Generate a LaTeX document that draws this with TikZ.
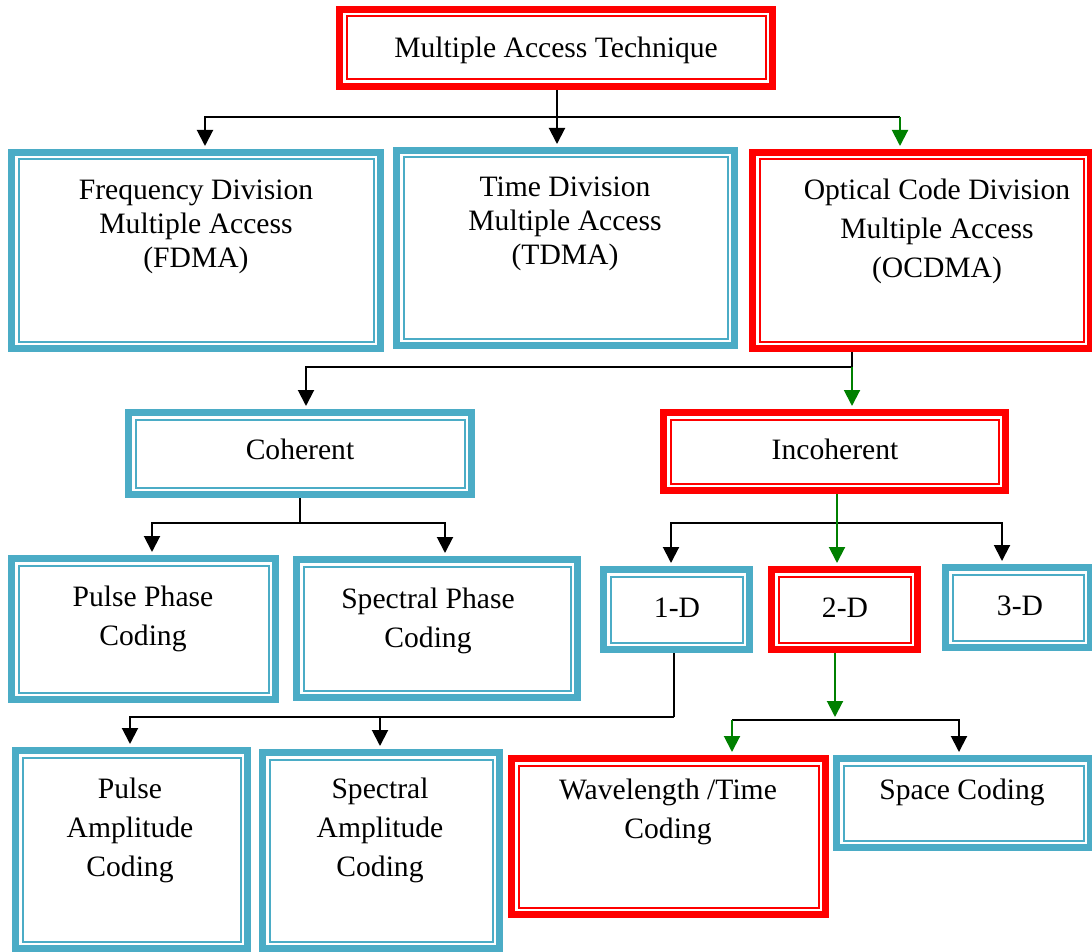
\documentclass[tikz,border=0pt]{standalone}
\usepackage{fontspec}
\setmainfont{Liberation Serif}
\usetikzlibrary{arrows.meta}
\definecolor{aqua}{RGB}{75,172,198}
\definecolor{dgreen}{RGB}{0,128,0}
\begin{document}
\begin{tikzpicture} [x = 0.5pt, y = -0.5pt,
  box/.style = {draw = #1, line width = 3.5pt, fill = white, inner sep = 0pt,
    path picture = {\draw[#1, line width = 1pt]
      ([shift = {(3.5pt,3.5pt)}]path picture bounding box.south west) rectangle
      ([shift = {(-3.5pt,-3.5pt)}]path picture bounding box.north east);}},
  txt/.style = {align = center, inner sep = 0pt, font = \fontsize{14.8}{17}\selectfont},
  wide/.style = {txt, font = \fontsize{14.8}{19.5}\selectfont},
  ln/.style = {line width = 1pt},
  arr/.style = {ln, shorten >= 1.5pt, -{Triangle[length = 8pt, width = 8pt]}},
  garr/.style = {arr, dgreen}]
\useasboundingbox (0,0) rectangle (1092,952);
\clip (0,0) rectangle (1092,952);

\node[box = red, minimum width = 216.5pt, minimum height = 38.5pt] (mat) at (556,48) {};
\node[txt] (matt) at (556,50) {Multiple Access Technique};

\node[box = aqua, minimum width = 184.5pt, minimum height = 98pt] (fdma) at (196,250.5) {};
\node[txt] (fdmat) at (196,227) {Frequency Division\\Multiple Access\\(FDMA)};
\node[box = aqua, minimum width = 169pt, minimum height = 97.5pt] (tdma) at (565.5,248) {};
\node[txt] (tdmat) at (565,224) {Time Division\\Multiple Access\\(TDMA)};
\node[box = red, minimum width = 169pt, minimum height = 98pt] (ocdma) at (921.5,250.5) {};
\node[wide] (ocdmat) at (937,231) {Optical Code Division\\Multiple Access\\(OCDMA)};

\node[box = aqua, minimum width = 171.5pt, minimum height = 41pt] (coh) at (300,453.5) {};
\node[txt] (coht) at (300,449.5) {Coherent};
\node[box = red, minimum width = 171pt, minimum height = 39pt] (incoh) at (834.5,451.5) {};
\node[txt] (incoht) at (835,449.5) {Incoherent};

\node[box = aqua, minimum width = 132pt, minimum height = 70.5pt] (ppc) at (143.5,629) {};
\node[wide] (ppct) at (143,618.5) {Pulse Phase\\Coding};
\node[box = aqua, minimum width = 140.5pt, minimum height = 69pt] (spc) at (437,628.5) {};
\node[wide] (spct) at (428,620.5) {Spectral Phase\\Coding};
\node[box = aqua, minimum width = 73pt, minimum height = 40pt] (oned) at (676.5,609.5) {};
\node[txt] (onedt) at (677,607.5) {1-D};
\node[box = red, minimum width = 73pt, minimum height = 40pt] (twod) at (844.5,609.5) {};
\node[txt] (twodt) at (845,607.5) {2-D};
\node[box = aqua, minimum width = 72.5pt, minimum height = 40pt] (threed) at (1018,607.5) {};
\node[txt] (threedt) at (1020,605.5) {3-D};

\node[box = aqua, minimum width = 116pt, minimum height = 99pt] (pac) at (131.5,849.5) {};
\node[wide] (pact) at (130,830) {Pulse\\Amplitude\\Coding};
\node[box = aqua, minimum width = 118.5pt, minimum height = 98pt] (sac) at (381,850.5) {};
\node[wide] (sact) at (380,830) {Spectral\\Amplitude\\Coding};
\node[box = red, minimum width = 157pt, minimum height = 78pt] (wtc) at (668.5,836.5) {};
\node[wide] (wtct) at (668,811.5) {Wavelength /Time\\Coding};
\node[box = aqua, minimum width = 127pt, minimum height = 44.5pt] (sc) at (963.5,803) {};
\node[txt] (sct) at (962,792) {Space Coding};

\coordinate (b1) at (557,117);
\coordinate (b1r) at (900,117);
\draw[arr] (mat.south -| b1) -- (b1 |- tdma.north);
\draw[arr] (b1) -| ([xshift = 4.5pt]fdma.north);
\draw[ln] (b1) -- (b1r);
\draw[garr] (b1r) -- (b1r |- ocdma.north);

\coordinate (b2) at (852,367);
\draw[ln] (b2 |- ocdma.south) -- (b2);
\draw[arr] (b2) -| ([xshift = 3pt]coh.north);
\draw[garr] (b2) -- (b2 |- incoh.north);

\coordinate (b3) at (300,523);
\draw[ln] (coh.south) -- (b3);
\draw[arr] (b3) -| ([xshift = 4.25pt]ppc.north);
\draw[arr] (b3) -| ([xshift = 4pt]spc.north);

\coordinate (b4) at (837,523);
\draw[arr] (b4) -| ([xshift = -2.75pt]oned.north);
\draw[arr] (b4) -| ([xshift = -8pt]threed.north);
\draw[garr] (incoh.south -| b4) -- (b4 |- twod.north);

\coordinate (b5) at (674,717);
\draw[ln] (b5 |- oned.south) -- (b5);
\draw[arr] (b5) -| ([xshift = -0.75pt]pac.north);
\draw[arr] (b5) -| ([xshift = -0.5pt]sac.north);

\coordinate (b6) at (835,720);
\coordinate (b6l) at (732,720);
\draw[arr] (b6) -| ([xshift = -2.25pt]sc.north);
\draw[ln] (b6) -- (b6l);
\draw[garr] (b6l) -- (b6l |- wtc.north);
\draw[garr] (b6 |- twod.south) -- (b6);
\end{tikzpicture}
\end{document}
